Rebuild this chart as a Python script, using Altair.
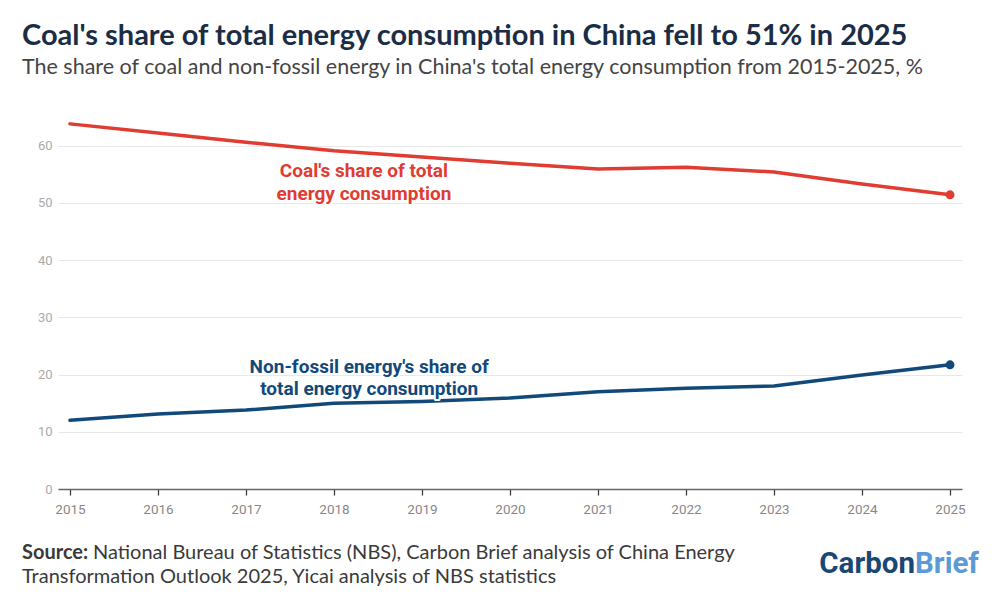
import altair as alt
import pandas as pd

years = list(range(2015, 2026))
coal_share = [63.8, 62.2, 60.6, 59.1, 58.0, 56.9, 55.9, 56.2, 55.4, 53.3, 51.4]
nonfossil_share = [12.0, 13.1, 13.8, 15.0, 15.3, 15.9, 17.0, 17.6, 18.0, 19.9, 21.7]
series_names = ["Coal", "Non-fossil"]
series_colors = ["#e03c31", "#11497a"]
y_ticks = [0, 10, 20, 30, 40, 50, 60]

label_text = ["Coal's share of total", "energy consumption",
              "Non-fossil energy's share of", "total energy consumption"]
label_series = ["Coal", "Coal", "Non-fossil", "Non-fossil"]
label_year = [2018.34, 2018.34, 2018.40, 2018.40]
label_value = [55.5, 51.5, 21.4, 17.4]

title_text = "Coal's share of total energy consumption in China fell to 51% in 2025"
subtitle_text = "The share of coal and non-fossil energy in China's total energy consumption from 2015-2025, %"
source_bold = "Source:"
source_line1 = "National Bureau of Statistics (NBS), Carbon Brief analysis of China Energy"
source_line2 = "Transformation Outlook 2025, Yicai analysis of NBS statistics"
logo_a, logo_b = "Carbon", "Brief"

df = pd.DataFrame({
    "year": years * 2,
    "value": coal_share + nonfossil_share,
    "series": ["Coal"] * len(years) + ["Non-fossil"] * len(years),
})
labels = pd.DataFrame({"text": label_text, "series": label_series,
                       "year": label_year, "value": label_value})

W, H = 904, 372
xscale = alt.Scale(domain=[2014.864, 2025.136], nice=False, zero=False)
yscale = alt.Scale(domain=[0, 65], nice=False)
cscale = alt.Scale(domain=series_names, range=series_colors)

x_enc = alt.X("year:Q", scale=xscale, axis=alt.Axis(
    values=years, format="d", title=None, grid=False, labelColor="#888",
    labelFontSize=13.5, labelFont="Roboto", tickColor="#333", tickSize=6,
    tickWidth=1.2, domainColor="#666", domainWidth=1.5, labelPadding=7))
y_enc = alt.Y("value:Q", scale=yscale, axis=alt.Axis(
    values=y_ticks, title=None, grid=True, gridColor="#e8e8e8", domain=False,
    ticks=False, labelColor="#aaa", labelFontSize=13, labelFont="Roboto",
    labelPadding=6))

lines = alt.Chart(df).mark_line(strokeWidth=3.5, strokeCap="round").encode(
    x=x_enc, y=y_enc, color=alt.Color("series:N", scale=cscale, legend=None))
dots = alt.Chart(df).transform_filter("datum.year == 2025").mark_circle(
    size=80, opacity=1).encode(
    x="year:Q", y="value:Q", color=alt.Color("series:N", scale=cscale, legend=None))

halo = alt.Chart(labels).mark_text(
    font="Roboto", fontSize=19, fontWeight="bold", stroke="white",
    strokeWidth=4, strokeJoin="round", align="center", baseline="middle").encode(
    x="year:Q", y="value:Q", text="text:N")
lab = alt.Chart(labels).mark_text(
    font="Roboto", fontSize=19, fontWeight="bold", align="center",
    baseline="middle").encode(
    x="year:Q", y="value:Q", text="text:N",
    color=alt.Color("series:N", scale=cscale, legend=None))

one = pd.DataFrame({"k": [0]})
foot_style = dict(font="Lato", fontSize=20, align="left", baseline="middle", color="#3a3a3a")
f1 = alt.Chart(one).mark_text(fontWeight="bold", **foot_style).encode(
    x=alt.value(-36), y=alt.value(H + 64), text=alt.value(source_bold))
f2 = alt.Chart(one).mark_text(**foot_style).encode(
    x=alt.value(35), y=alt.value(H + 64), text=alt.value(source_line1))
f3 = alt.Chart(one).mark_text(**foot_style).encode(
    x=alt.value(-36), y=alt.value(H + 88), text=alt.value(source_line2))
logo_style = dict(font="Roboto", fontSize=29.5, fontWeight="bold", baseline="alphabetic")
g1 = alt.Chart(one).mark_text(align="right", color="#1b4774", **logo_style).encode(
    x=alt.value(857), y=alt.value(H + 84), text=alt.value(logo_a))
g2 = alt.Chart(one).mark_text(align="left", color="#5b9ad6", **logo_style).encode(
    x=alt.value(857), y=alt.value(H + 84), text=alt.value(logo_b))

chart = alt.layer(lines, dots, halo, lab, f1, f2, f3, g1, g2).properties(
    width=W, height=H,
    padding={"left": 50, "top": 109, "right": 30, "bottom": 103},
    autosize=alt.AutoSizeParams(type="none"),
    title=alt.TitleParams(
        text=title_text, subtitle=subtitle_text, anchor="start", frame="group",
        dx=-36, font="Lato", fontSize=29, fontWeight="bold", color="#1b2d45",
        subtitleFont="Lato", subtitleFontSize=21.5, subtitleColor="#444",
        subtitlePadding=6, offset=38),
).configure_view(stroke=None)

chart.save("out.html", embed_options={"renderer": "svg", "actions": False})
